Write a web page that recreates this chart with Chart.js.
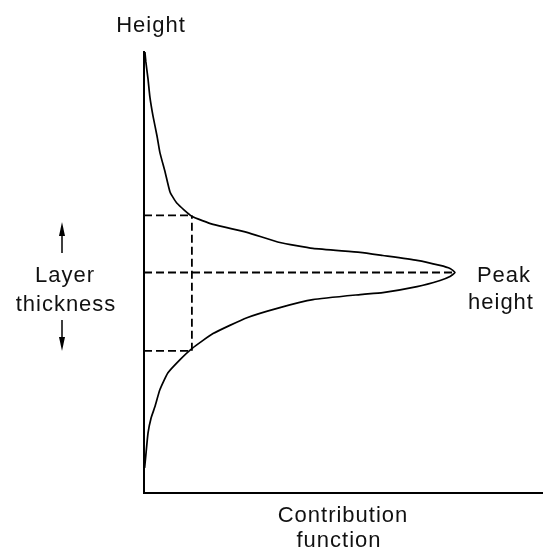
<!DOCTYPE html>
<html>
<head>
<meta charset="utf-8">
<script src="https://cdn.jsdelivr.net/npm/chart.js@4"></script>
<style>
  html, body { margin: 0; padding: 0; background: #fff; }
  #wrap { width: 543px; height: 555px; }
</style>
</head>
<body>
<div id="wrap"><canvas id="contribChart"></canvas></div>
<script>
// Contribution function vs height (arbitrary units, peak = 1)
const contribution = [0.002, 0.006, 0.013, 0.023, 0.035, 0.051, 0.077, 0.116, 0.154, 0.222, 0.331, 0.437, 0.543, 0.695, 0.768, 0.878, 0.952, 0.984, 1.0,
                      0.984, 0.952, 0.878, 0.768, 0.695, 0.543, 0.437, 0.331, 0.222, 0.154, 0.106, 0.084, 0.068, 0.051, 0.042, 0.029, 0.019, 0.013, 0.006, 0.003];
const height = [0.114, 0.173, 0.273, 0.341, 0.391, 0.468, 0.545, 0.605, 0.655, 0.723, 0.795, 0.841, 0.877, 0.900, 0.909, 0.936, 0.964, 0.982, 1.0,
                1.018, 1.032, 1.055, 1.077, 1.091, 1.109, 1.136, 1.182, 1.218, 1.255, 1.314, 1.364, 1.455, 1.545, 1.618, 1.709, 1.795, 1.877, 1.955, 2.0];

// guide lines
const peakX = 1.0;
const peakHeight = 1.0;
const layerX = 0.154;
const layerTop = 1.259;
const layerBottom = 0.645;

const curveData = contribution.map((c, i) => ({ x: c, y: height[i] }));

const dashed = {
    borderColor: '#000',
    borderWidth: 1.8,
    borderDash: [8, 4],
    pointRadius: 0,
    showLine: true,
    fill: false,
    clip: false
};

// labels and the little arrows beside the axis
const labelsPlugin = {
    id: 'labels',
    afterDraw(chart) {
        const ctx = chart.ctx;
        const xs = chart.scales.x;
        ctx.save();
        ctx.fillStyle = '#111';
        ctx.font = '22px "Liberation Sans", Arial, sans-serif';
        ctx.letterSpacing = '1px';
        ctx.textAlign = 'center';
        ctx.textBaseline = 'alphabetic';

        ctx.fillText('Height', xs.left + 7, 32);
        ctx.fillText('Contribution', 343, 522);
        ctx.fillText('function', 339, 547);

        const px = xs.getPixelForValue(peakX);
        ctx.fillText('Peak', px + 49, 282);
        ctx.fillText('height', px + 46, 309);

        ctx.fillText('Layer', 65, 282);
        ctx.fillText('thickness', 66, 311);

        // arrows
        ctx.strokeStyle = '#000';
        ctx.lineWidth = 1.5;
        ctx.beginPath();
        ctx.moveTo(62, 253); ctx.lineTo(62, 230);
        ctx.moveTo(62, 320); ctx.lineTo(62, 343);
        ctx.stroke();
        ctx.fillStyle = '#000';
        ctx.beginPath();
        ctx.moveTo(62, 222); ctx.lineTo(65, 236); ctx.lineTo(59, 236); ctx.closePath();
        ctx.fill();
        ctx.beginPath();
        ctx.moveTo(62, 351); ctx.lineTo(65, 337); ctx.lineTo(59, 337); ctx.closePath();
        ctx.fill();
        ctx.restore();
    }
};

const chart = new Chart(document.getElementById('contribChart').getContext('2d'), {
    type: 'scatter',
    data: {
        datasets: [
            {
                data: curveData,
                showLine: true,
                borderColor: '#000',
                borderWidth: 1.7,
                pointRadius: 0,
                tension: 0.15,
                fill: false,
                clip: false
            },
            Object.assign({ data: [{ x: 0, y: peakHeight }, { x: peakX, y: peakHeight }] }, dashed),
            Object.assign({ data: [{ x: 0, y: layerTop }, { x: layerX, y: layerTop }] }, dashed),
            Object.assign({ data: [{ x: 0, y: layerBottom }, { x: layerX, y: layerBottom }] }, dashed),
            Object.assign({ data: [{ x: layerX, y: layerBottom }, { x: layerX, y: layerTop }] }, dashed)
        ]
    },
    options: {
        responsive: true,
        maintainAspectRatio: false,
        animation: false,
        layout: { padding: { left: 144, top: 52, right: 0, bottom: 62 } },
        plugins: {
            legend: { display: false },
            tooltip: { enabled: false }
        },
        scales: {
            x: {
                type: 'linear',
                min: 0,
                max: 1.283,
                grid: { display: false, drawTicks: false },
                ticks: { display: false },
                border: { display: true, color: '#000', width: 2 }
            },
            y: {
                type: 'linear',
                min: 0,
                max: 2.0,
                grid: { display: false, drawTicks: false },
                ticks: { display: false },
                border: { display: true, color: '#000', width: 2 }
            }
        }
    },
    plugins: [labelsPlugin]
});
</script>
</body>
</html>
